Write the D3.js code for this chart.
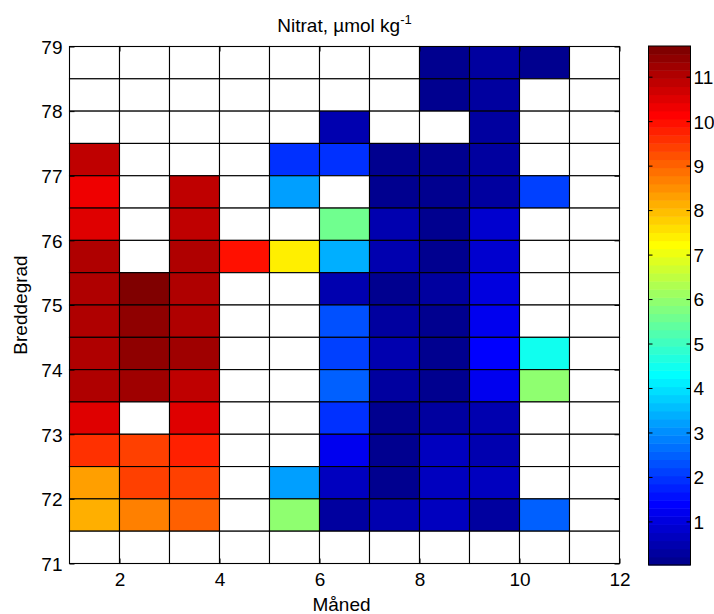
<!DOCTYPE html>
<html><head><meta charset="utf-8">
<script src="https://cdn.jsdelivr.net/npm/d3@7"></script>
<style>
body{margin:0;background:#fff}
text{font-family:"Liberation Sans",Arial,Helvetica,sans-serif;fill:#000}
</style>
</head><body>
<svg id="chart" width="714" height="614"></svg>
<script>
// Month cells: each cell spans [month, month+1]
const months = [1,2,3,4,5,6,7,8,9,10,11];
// Latitude cells (lower edge), top row first; each spans 0.5 degree
const latitudes = [78.5,78,77.5,77,76.5,76,75.5,75,74.5,74,73.5,73,72.5,72,71.5,71];
const n = null;
// Nitrate values (µmol/kg), one array per latitude band, months 1..11
const lat785 = [n,n,n,n,n,n,n,0.15,0.3,0.1,n];
const lat780 = [n,n,n,n,n,n,n,0.15,0.3,n,n];
const lat775 = [n,n,n,n,n,0.47,n,n,0.35,n,n];
const lat770 = [10.9,n,n,n,1.93,1.95,0.1,0.15,0.25,n,n];
const lat765 = [10.33,n,10.88,n,3.2,n,0.1,0.15,0.25,2.11,n];
const lat760 = [10.51,n,10.88,n,n,5.58,0.5,0.1,0.83,n,n];
const lat755 = [11.1,n,11.1,9.96,7.41,3.38,0.5,0.1,0.8,n,n];
const lat750 = [11.1,11.69,11.1,n,n,0.45,0.02,0.3,1.0,n,n];
const lat745 = [11.1,11.43,11.1,n,n,2.3,0.28,0.1,1.2,n,n];
const lat740 = [11.1,11.43,11.24,n,n,2.11,0.45,0.15,1.38,4.48,n];
const lat735 = [11.1,11.24,10.9,n,n,2.47,0.28,0.15,1.2,6.0,n];
const lat730 = [10.51,n,10.51,n,n,1.93,0.05,0.3,0.47,n,n];
const lat725 = [9.6,9.42,9.78,n,n,1.2,0.05,0.6,0.5,n,n];
const lat720 = [8.32,9.42,9.42,n,3.25,0.6,0.03,0.6,0.6,n,n];
const lat715 = [8.14,8.75,9.0,n,5.95,0.28,0.45,0.6,0.35,2.47,n];
const lat710 = [n,n,n,n,n,n,n,n,n,n,n];
const rows = [lat785,lat780,lat775,lat770,lat765,lat760,lat755,lat750,lat745,lat740,lat735,lat730,lat725,lat720,lat715,lat710];

const xTicks = [2,4,6,8,10,12];
const yTicks = [71,72,73,74,75,76,77,78,79];
const cbTicks = [1,2,3,4,5,6,7,8,9,10,11];

// MATLAB jet(64)
function jet(nc){
  const m = Math.ceil(nc/4);
  const u = [];
  for(let i=1;i<=m;i++) u.push(i/m);
  for(let i=0;i<m-1;i++) u.push(1);
  for(let i=m;i>=1;i--) u.push(i/m);
  const J = Array.from({length:nc},()=>[0,0,0]);
  const off = Math.ceil(nc/2) - ((nc%4)===1?1:0) - Math.ceil(u.length/2);
  for(let k=0;k<u.length;k++){
    const gi = off+k+1;
    if(gi>=1&&gi<=nc) J[gi-1][1]=u[k];
    const ri = gi+m; if(ri>=1&&ri<=nc) J[ri-1][0]=u[k];
    const bi = gi-m; if(bi>=1&&bi<=nc) J[bi-1][2]=u[k];
  }
  return J.map(c=>d3.rgb(c[0]*255,c[1]*255,c[2]*255).formatHex());
}
const cmap = jet(64);

const cells = [];
rows.forEach((r,ri)=>r.forEach((v,ci)=>cells.push({lat:latitudes[ri], month:months[ci], v})));
const ext = d3.extent(cells.filter(d=>d.v!=null), d=>d.v);
const cmin = ext[0], cmax = ext[1];
const colorIndex = d3.scaleQuantize().domain([cmin,cmax]).range(d3.range(64));
const color = v => v==null ? "#ffffff" : cmap[colorIndex(v)];

const svg = d3.select("#chart");
const L=69.5, R=619.5, T=46.5, B=563.5;
const x = d3.scaleLinear().domain([1,12]).range([L,R]);
const y = d3.scaleLinear().domain([71,79]).range([B,T]);

// cells
svg.append("g").selectAll("rect").data(cells).join("rect")
  .attr("x", d=>x(d.month)).attr("y", d=>y(d.lat+0.5))
  .attr("width", d=>x(d.month+1)-x(d.month))
  .attr("height", d=>y(d.lat)-y(d.lat+0.5))
  .attr("fill", d=>color(d.v))
  .attr("stroke", "#000").attr("stroke-width", 1.1);

// frame
svg.append("rect").attr("x",L).attr("y",T).attr("width",R-L).attr("height",B-T)
  .attr("fill","none").attr("stroke","#000").attr("stroke-width",1);

// axes
const fs = "19px";
const xAxisB = d3.axisBottom(x).tickValues(xTicks).tickSizeInner(-5).tickSizeOuter(0).tickPadding(12).tickFormat(d3.format("d"));
const gx = svg.append("g").attr("transform",`translate(0,${B})`).call(xAxisB);
gx.select(".domain").remove();
gx.selectAll("text").style("font-size",fs).attr("dy","0.71em").attr("y",9);
gx.selectAll("line").attr("stroke","#000");
const gxt = svg.append("g").attr("transform",`translate(0,${T})`).call(d3.axisTop(x).tickValues(xTicks).tickSizeInner(-5).tickSizeOuter(0).tickFormat(""));
gxt.select(".domain").remove();

const yAxisL = d3.axisLeft(y).tickValues(yTicks).tickSizeInner(-5).tickSizeOuter(0).tickPadding(12).tickFormat(d3.format("d"));
const gy = svg.append("g").attr("transform",`translate(${L},0)`).call(yAxisL);
gy.select(".domain").remove();
gy.selectAll("text").style("font-size",fs).attr("x",-7).attr("dy","0.36em");
const gyr = svg.append("g").attr("transform",`translate(${R},0)`).call(d3.axisRight(y).tickValues(yTicks).tickSizeInner(-5).tickSizeOuter(0).tickFormat(""));
gyr.select(".domain").remove();

// title & labels
const title = svg.append("text").attr("x",(L+R)/2).attr("y",32).attr("text-anchor","middle").style("font-size",fs);
title.append("tspan").text("Nitrat, \u00b5mol kg");
title.append("tspan").attr("dy",-8).style("font-size","13px").text("-1");
svg.append("text").attr("x",(L+R)/2 - 3).attr("y",611).attr("text-anchor","middle").style("font-size",fs).text("Måned");
svg.append("text").attr("transform",`translate(27,${(T+B)/2}) rotate(-90)`).attr("text-anchor","middle").style("font-size",fs).text("Breddegrad");

// colorbar
const cbL=648.5, cbR=690.5, cbT=46, cbB=565;
const cy = d3.scaleLinear().domain([cmin,cmax]).range([cbB,cbT]);
const bands = d3.range(64);
svg.append("g").selectAll("rect").data(bands).join("rect")
  .attr("x",cbL).attr("width",cbR-cbL)
  .attr("y",i=>cy(cmin+(i+1)*(cmax-cmin)/64))
  .attr("height",i=>cy(cmin+i*(cmax-cmin)/64)-cy(cmin+(i+1)*(cmax-cmin)/64)+0.5)
  .attr("fill",i=>cmap[i]);
svg.append("rect").attr("x",cbL).attr("y",cbT).attr("width",cbR-cbL).attr("height",cbB-cbT)
  .attr("fill","none").attr("stroke","#000").attr("stroke-width",1);
const gc = svg.append("g").attr("transform",`translate(${cbR},0)`)
  .call(d3.axisRight(cy).tickValues(cbTicks).tickSizeInner(-4).tickSizeOuter(0).tickPadding(7).tickFormat(d3.format("d")));
gc.select(".domain").remove();
gc.selectAll("text").style("font-size",fs).attr("x",3).attr("dy","0.36em");
const gcl = svg.append("g").attr("transform",`translate(${cbL},0)`)
  .call(d3.axisLeft(cy).tickValues(cbTicks).tickSizeInner(-4).tickSizeOuter(0).tickFormat(""));
gcl.select(".domain").remove();
</script>
</body></html>
